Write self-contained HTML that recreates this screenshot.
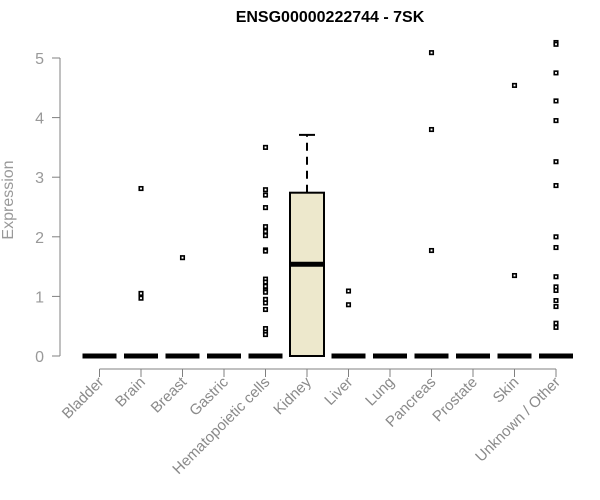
<!DOCTYPE html>
<html><head><meta charset="utf-8"><style>
body{margin:0;background:#fff}
svg{display:block;font-family:"Liberation Sans",Arial,sans-serif}
</style></head><body>
<svg id="c" width="600" height="500">
<text x="330" y="22" text-anchor="middle" font-weight="bold" font-size="16" fill="#000">ENSG00000222744 - 7SK</text>
<text transform="translate(13,200) rotate(-90)" text-anchor="middle" font-size="16" fill="#999">Expression</text>
</svg>
<script>
const categories=["Bladder","Brain","Breast","Gastric","Hematopoietic cells","Kidney","Liver","Lung","Pancreas","Prostate","Skin","Unknown / Other"];
const q1=[0,0,0,0,0,0,0,0,0,0,0,0];
const medians=[0,0,0,0,0,1.54,0,0,0,0,0,0];
const q3=[0,0,0,0,0,2.74,0,0,0,0,0,0];
const whiskerLow=[0,0,0,0,0,0,0,0,0,0,0,0];
const whiskerHigh=[0,0,0,0,0,3.71,0,0,0,0,0,0];
const outliers=[[],[2.81,1.05,0.97],[1.65],[],[3.5,2.79,2.7,2.49,2.17,2.09,2.02,1.78,1.76,1.29,1.24,1.17,1.1,1.07,0.95,0.89,0.78,0.46,0.4,0.36],[],[1.09,0.86],[],[5.09,3.8,1.77],[],[4.54,1.35],[5.26,5.23,4.75,4.28,3.95,3.26,2.86,2.0,1.82,1.33,1.16,1.1,0.93,0.83,0.55,0.48]];
const yTicks=[0,1,2,3,4,5];
const svg=document.getElementById('c');const NS='http://www.w3.org/2000/svg';
function yS(v){return 356-v*59.6;}
function xS(i){return 99.5+i*41.5;}
function mk(t,a,p){const e=document.createElementNS(NS,t);for(const k in a)e.setAttribute(k,a[k]);(p||svg).appendChild(e);return e;}
let ya=mk('path',{d:`M60 ${yS(0)}V${yS(5)}`,stroke:'#808080',fill:'none'});


yTicks.forEach(v=>{
 const t=mk('line',{x1:52,x2:60,y1:yS(v),y2:yS(v),stroke:'#808080'});
 
 
 const l=mk('text',{x:44,y:yS(v)+6,'text-anchor':'end','font-size':'16',fill:'#999'});l.textContent=v;
 
 
});
let xa=mk('line',{x1:xS(0),x2:xS(11),y1:369,y2:369,stroke:'#808080'});


categories.forEach((c,i)=>{
 const x=xS(i),hw=17;
 const t=mk('line',{x1:x,x2:x,y1:369,y2:377,stroke:'#808080'});
 
 
 const l=mk('text',{x:x+5,y:383,'text-anchor':'end','font-size':'15',fill:'#8a8a8a',transform:`rotate(-45 ${x+5} 383)`});l.textContent=c;
 
 
 const g=mk('g',{});
 
 
 if(whiskerHigh[i]>q3[i]){
  mk('line',{x1:x,x2:x,y1:yS(q3[i]),y2:yS(whiskerHigh[i]),stroke:'#000','stroke-width':2,'stroke-dasharray':'8,6'},g);
  mk('line',{x1:x-8,x2:x+8,y1:yS(whiskerHigh[i]),y2:yS(whiskerHigh[i]),stroke:'#000','stroke-width':2},g);
 }
 if(q3[i]>q1[i]){
  mk('rect',{x:x-hw,y:yS(q3[i]),width:2*hw,height:yS(q1[i])-yS(q3[i]),fill:'#ede8cc',stroke:'#000','stroke-width':2},g);
 }
 mk('line',{x1:x-hw,x2:x+hw,y1:yS(medians[i]),y2:yS(medians[i]),stroke:'#000','stroke-width':5},g);
 outliers[i].forEach(v=>{
  const p=mk('rect',{x:x-1.75,y:yS(v)-1.75,width:3.5,height:3.5,fill:'#fff',stroke:'#000','stroke-width':1.6});
  
  
 });
});
</script>
</body></html>
